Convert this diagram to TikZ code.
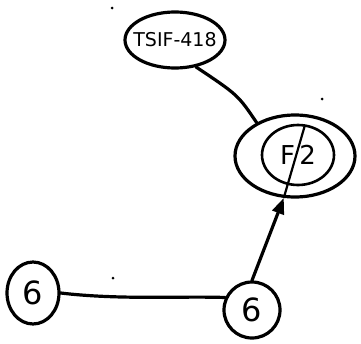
\documentclass[tikz,border=0pt]{standalone}
\usepackage{fontspec}
\setmainfont{DejaVu Sans}
\usetikzlibrary{shapes.geometric,arrows.meta}
\begin{document}
\begin{tikzpicture}[x=1pt,y=-1pt,
  ink/.style={line width=3.2pt,black},
  oval/.style={ink,draw,ellipse,inner sep=0pt},
  conn/.style={ink,line cap=round},
  speck/.style={fill=black,circle,inner sep=0pt,minimum size=3pt}]
\useasboundingbox (0,0) rectangle (361,343);
\node[oval,inner xsep=-9pt,minimum width=100pt,minimum height=56pt,font=\fontsize{19}{19}\selectfont] (tsif) at (175,40) {TSIF-418};
\node[oval,minimum width=120pt,minimum height=82pt] (dbl) at (295,156) {};
\node[oval,minimum width=72pt,minimum height=60pt,line width=2.6pt,font=\fontsize{26}{26}\selectfont] (inner) at (298,155) {F\,2};
\node[oval,minimum width=52pt,minimum height=62pt,font=\fontsize{32}{32}\selectfont] (six1) at (33,293) {6};
\node[oval,minimum width=56pt,minimum height=56pt,font=\fontsize{32}{32}\selectfont] (six2) at (252,310) {6};
\draw[conn] (tsif.-52) .. controls (238,95) .. (dbl.139);
\draw[conn] (six1.east) .. controls (120,300) and (180,296) .. (six2.155);
\draw[conn,-{Triangle[length=16pt,width=12pt]}] (six2.north) -- (dbl.-105);
\coordinate (slashtop) at (305,125);
\draw[line width=2.2pt] (dbl.-105) -- (slashtop);
\node[speck] (d1) at (113,278) {};
\node[speck] (d2) at (112,8) {};
\node[speck] (d3) at (322,99) {};
\end{tikzpicture}
\end{document}
